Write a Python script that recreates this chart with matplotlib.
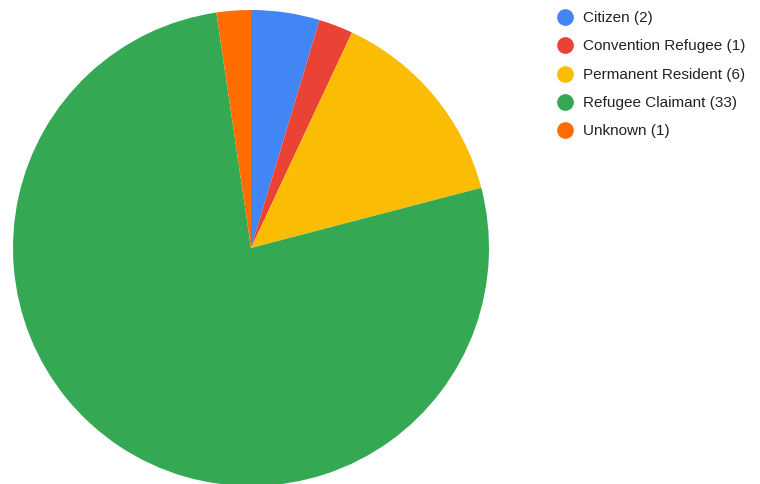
import matplotlib
matplotlib.use('Agg')
import matplotlib.pyplot as plt
from matplotlib.lines import Line2D

# Slice data
labels = ['Citizen', 'Convention Refugee', 'Permanent Resident', 'Refugee Claimant', 'Unknown']
counts = [2, 1, 6, 33, 1]
colors = ['#4285F4', '#EA4335', '#FBBC04', '#34A853', '#FF6D01']

plt.rcParams['font.family'] = ['Liberation Sans', 'DejaVu Sans']

W, H = 760, 485
fig = plt.figure(figsize=(W / 100, H / 100), dpi=100)

# Pie centre at (251, 249) px from top-left, radius 238 px
cx, cy, r = 251, 249, 238
ax = fig.add_axes([(cx - r) / W, (H - cy - r) / H, 2 * r / W, 2 * r / H])
ax.pie(counts, colors=colors, startangle=90, counterclock=False,
       wedgeprops=dict(linewidth=0, antialiased=True))
ax.set_xlim(-1, 1)
ax.set_ylim(-1, 1)
ax.set_aspect('equal')
ax.axis('off')

# Legend: circle markers on the right
marker_x = 565
text_x = 583
ys = [18, 46, 75, 103, 131]
for lab, n, c, y in zip(labels, counts, colors, ys):
    fig.add_artist(Line2D([marker_x / W], [1 - y / H], marker='o', markersize=11,
                          color=c, linestyle='none', transform=fig.transFigure))
    fig.text(text_x / W, 1 - y / H, f'{lab} ({n})', fontsize=11, color='#222222',
             va='center', ha='left')

fig.savefig('out.png', dpi=100)
